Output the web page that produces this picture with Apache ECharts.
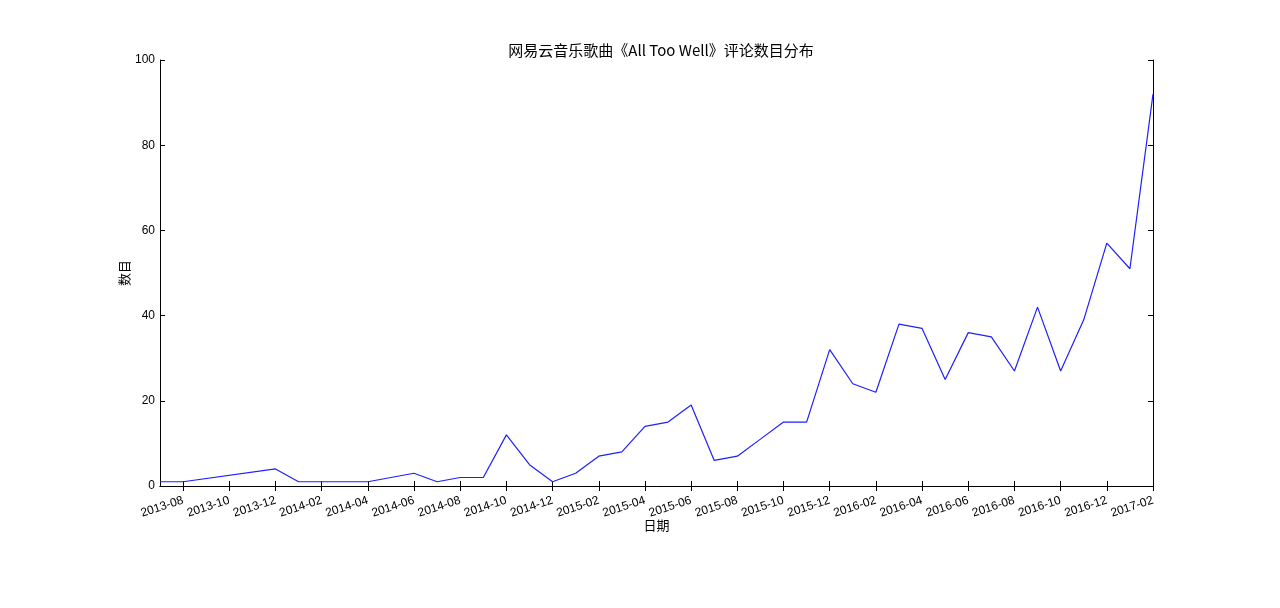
<!DOCTYPE html>
<html>
<head>
<meta charset="utf-8">
<script src="https://cdn.jsdelivr.net/npm/echarts@6/dist/echarts.min.js"></script>
<style>
html,body{margin:0;padding:0;background:#fff;}
#chart{width:1280px;height:608px;}
</style>
</head>
<body>
<div id="chart"></div>
<script>
const months = ['2013-07','2013-08','2013-09','2013-10','2013-11','2013-12',
  '2014-01','2014-02','2014-03','2014-04','2014-05','2014-06','2014-07','2014-08','2014-09','2014-10','2014-11','2014-12',
  '2015-01','2015-02','2015-03','2015-04','2015-05','2015-06','2015-07','2015-08','2015-09','2015-10','2015-11','2015-12',
  '2016-01','2016-02','2016-03','2016-04','2016-05','2016-06','2016-07','2016-08','2016-09','2016-10','2016-11','2016-12',
  '2017-01','2017-02'];
const counts = [1,1,null,null,null,4,
  1,1,1,1,2,3,1,2,2,12,5,1,
  3,7,8,14,15,19,6,7,11,15,15,32,
  24,22,38,37,25,36,35,27,42,27,39,57,
  51,92];
const yTicks = [0,20,40,60,80,100];
const titleText = '网易云音乐歌曲《All Too Well》评论数目分布';
const xName = '日期';
const yName = '数目';

const every2 = function (idx) { return idx % 2 === 1; };
const tickFont = 'Liberation Sans, Arial, sans-serif';
const cjkFont = 'Noto Sans CJK SC, sans-serif';

const chart = echarts.init(document.getElementById('chart'));
chart.setOption({
  animation: false,
  backgroundColor: '#fff',
  title: {
    text: titleText,
    left: 656,
    top: 38,
    textAlign: 'center',
    textStyle: {fontFamily: cjkFont, fontSize: 15, fontWeight: 'normal', color: '#000'}
  },
  grid: {left: 160, right: 127, top: 60, bottom: 122, containLabel: false},
  xAxis: [{
    type: 'category',
    data: months,
    boundaryGap: false,
    name: xName,
    nameLocation: 'middle',
    nameGap: 33,
    nameMoveOverlap: false,
    nameTextStyle: {fontFamily: cjkFont, fontSize: 13, color: '#000', verticalAlign: 'top'},
    axisLine: {lineStyle: {color: '#000', width: 1}},
    axisTick: {inside: true, length: 5, interval: every2, lineStyle: {color: '#000'}},
    axisLabel: {interval: every2, rotate: 18, margin: 14, fontFamily: tickFont, fontSize: 12, color: '#000'},
    splitLine: {show: false}
  }, {
    type: 'category',
    data: months,
    boundaryGap: false,
    position: 'top',
    axisLine: {lineStyle: {color: '#000', width: 1}},
    axisTick: {inside: true, length: 5, interval: every2, lineStyle: {color: '#000'}},
    axisLabel: {show: false},
    splitLine: {show: false}
  }],
  yAxis: [{
    type: 'value',
    min: yTicks[0],
    max: yTicks[yTicks.length - 1],
    interval: yTicks[1] - yTicks[0],
    name: yName,
    nameLocation: 'middle',
    nameGap: 29,
    nameMoveOverlap: false,
    nameTextStyle: {fontFamily: cjkFont, fontSize: 13, color: '#000'},
    axisLine: {show: true, lineStyle: {color: '#000', width: 1}},
    axisTick: {show: true, inside: true, length: 5, lineStyle: {color: '#000'}},
    axisLabel: {margin: 5, fontFamily: tickFont, fontSize: 12, color: '#000'},
    splitLine: {show: false}
  }, {
    type: 'value',
    min: yTicks[0],
    max: yTicks[yTicks.length - 1],
    interval: yTicks[1] - yTicks[0],
    position: 'right',
    axisLine: {show: true, lineStyle: {color: '#000', width: 1}},
    axisTick: {show: true, inside: true, length: 5, lineStyle: {color: '#000'}},
    axisLabel: {show: false},
    splitLine: {show: false}
  }],
  series: [{
    type: 'line',
    data: counts,
    xAxisIndex: 0,
    yAxisIndex: 0,
    showSymbol: false,
    connectNulls: true,
    lineStyle: {color: '#1f1fff', width: 1.2},
    itemStyle: {color: '#1f1fff'}
  }]
});
</script>
</body>
</html>
